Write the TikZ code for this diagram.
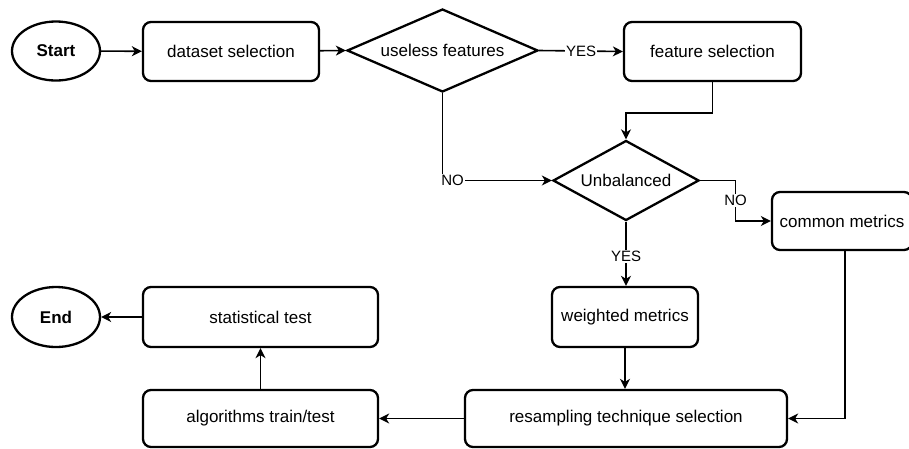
\documentclass[tikz,border=0pt]{standalone}
\usepackage{fontspec}
\setmainfont{Liberation Sans}
\usetikzlibrary{shapes.geometric,arrows.meta,calc}
\begin{document}
\begin{tikzpicture}[x=1pt,y=-1pt,
  every node/.style={font=\fontsize{17}{20}\selectfont},
  boxnode/.style={draw,line width=2.3pt,rounded corners=8pt,inner sep=0pt},
  termnode/.style={draw,ellipse,line width=2.3pt,inner sep=0pt,font=\fontsize{17}{20}\selectfont\bfseries},
  decnode/.style={draw,diamond,line width=2.3pt,inner sep=0pt},
  conn/.style={line width=1.6pt,-{Stealth[length=10pt,width=10pt,inset=3pt]}},
  lbl/.style={fill=white,inner sep=1pt,font=\fontsize{15}{18}\selectfont}]
\useasboundingbox (0,0) rectangle (909,448);
\node[termnode,minimum width=88pt,minimum height=59pt] (start) at (56,51) {Start};
\node[boxnode,minimum width=176pt,minimum height=59pt] (ds) at (231,51.5) {dataset selection};
\node[decnode,shape aspect=2.3,minimum width=191pt,minimum height=83pt] (uf) at (442.5,50.5) {useless features};
\node[boxnode,minimum width=177pt,minimum height=59pt] (fs) at (712.5,51.5) {feature selection};
\node[decnode,shape aspect=1.825,minimum width=146pt,minimum height=80pt] (ub) at (626,180.5) {Unbalanced};
\node[boxnode,minimum width=140pt,minimum height=58pt] (cm) at (842,221) {common metrics};
\node[boxnode,minimum width=146pt,minimum height=60pt] (wm) at (625,317) {weighted metrics};
\node[boxnode,minimum width=322pt,minimum height=57pt] (rs) at (626,418.5) {resampling technique selection};
\node[boxnode,minimum width=235pt,minimum height=57pt] (at) at (260.5,418.5) {algorithms train/test};
\node[boxnode,minimum width=235pt,minimum height=60pt] (st) at (260.5,317) {statistical test};
\node[termnode,minimum width=88pt,minimum height=60pt] (end) at (56,317) {End};

\draw[conn] (start) -- (ds);
\draw[conn] (ds) -- (uf.west);
\draw[conn] (uf.east) -- node[lbl]{YES} (fs.west);
\draw[conn] (fs.south) -- ++(0,31) -| (ub.north);
\draw[conn] (uf.south) |- node[lbl,pos=0.5,xshift=10pt]{NO} (ub.west);
\coordinate (m1) at ($(ub.east)!0.5!(cm.west)$);
\draw[conn] (ub.east) -| (m1) node[lbl]{NO} |- (cm.west);
\draw[conn] (ub.south) -- node[lbl,pos=0.54]{YES} (ub.south |- wm.north);
\draw[conn] (wm.south) -- (wm.south |- rs.north);
\draw[conn] (cm.south) ++(3,0) coordinate (c1) (c1) |- (rs.east);
\draw[conn] (rs.west) -- (at.east);
\draw[conn] (at.north) -- (st.south);
\draw[conn] (st.west) -- (end.east);
\end{tikzpicture}
\end{document}
